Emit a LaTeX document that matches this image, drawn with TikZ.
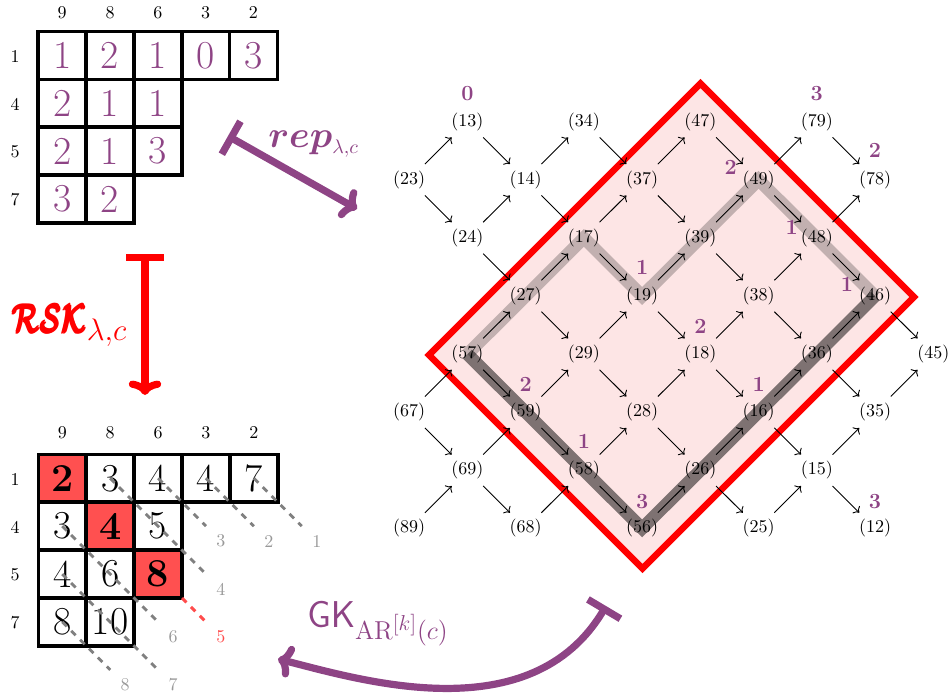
\documentclass[tikz,border=0pt]{standalone}
\usepackage{amsmath}
\usepackage{bm}
\usetikzlibrary{arrows.meta,calc,backgrounds}
\definecolor{plum}{RGB}{142,68,133}
\definecolor{cellred}{RGB}{255,80,80}
\definecolor{pinkfill}{RGB}{253,229,229}
\begin{document}
\begin{tikzpicture}[x=0.5556pt, y=-0.5556pt,
  vtx/.style={inner sep=1pt, font=\normalsize},
  edge/.style={->, line width=0.5pt},
  glab/.style={text=plum, font=\large\bfseries, inner sep=0pt},
  cell/.style={draw, line width=2pt, minimum size=26.6pt, inner sep=0pt, font=\fontsize{22}{26}\selectfont},
  hl/.style={fill=cellred, font=\fontsize{22}{26}\selectfont\bfseries},
  pl/.style={},
  tlab/.style={font=\normalsize, inner sep=0pt},
  dots/.style={gray, line width=1.6pt, dash pattern=on 3.5pt off 3.5pt},
  reddots/.style={red!70, line width=1.6pt, dash pattern=on 3.5pt off 3.5pt},
  dlab/.style={text=black!40, font=\normalsize, inner sep=0pt},
  bigarr/.style={line width=4pt, {Bar[width=21pt]}-{Computer Modern Rightarrow[width=18pt,length=8pt]}},
  biglab/.style={anchor=base west, inner sep=0pt, font=\huge},
]
\useasboundingbox (0,0) rectangle (951,698);

% ---------- top tableau ----------
\foreach \v [count=\i] in {9,8,6,3,2}
  \node[tlab] (tc\i) at ({38.3+47.8*(\i-0.5)},13) {\v};
\foreach \v [count=\i] in {1,4,5,7}
  \node[tlab] (tr\i) at (15,{32.7+47.8*(\i-0.5)}) {\v};
\foreach \r/\c/\v in {1/1/1,1/2/2,1/3/1,1/4/0,1/5/3,2/1/2,2/2/1,2/3/1,3/1/2,3/2/1,3/3/3,4/1/3,4/2/2}
  \node[cell, text=plum] (t\r\c) at ({38.3+47.8*(\c-0.5)},{31.7+47.8*(\r-0.5)}) {\v};

% ---------- bottom tableau ----------
\foreach \v [count=\i] in {9,8,6,3,2}
  \node[tlab] (bc\i) at ({38.3+47.9*(\i-0.5)},433) {\v};
\foreach \v [count=\i] in {1,4,5,7}
  \node[tlab] (br\i) at (15,{455.3+47.9*(\i-0.5)}) {\v};
\foreach \r/\c/\v/\s in {1/1/2/hl,1/2/3/pl,1/3/4/pl,1/4/4/pl,1/5/7/pl,2/1/3/pl,2/2/4/hl,2/3/5/pl,3/1/4/pl,3/2/6/pl,3/3/8/hl,4/1/8/pl,4/2/10/pl}
  \node[cell, \s] (b\r\c) at ({38.3+47.9*(\c-0.5)},{454.3+47.9*(\r-0.5)}) {\v};

% diagonal dotted lines
\foreach \st/\len/\lab in {b15/1/1, b14/1/2, b13/1/3, b12/2/4, b21/2/6, b31/2/7, b41/1/8}{
  \coordinate (d\lab) at ($(\st)+({47.9*\len},{47.9*\len})$);
  \draw[dots] (\st.center) -- (d\lab);
  \node[dlab] (dl\lab) at ($(d\lab)+(15,15)$) {\lab};
}
\coordinate (r5s) at ($(b33)+(23.95,23.95)$);
\coordinate (d5) at ($(r5s)+(23.95,23.95)$);
\draw[reddots] (r5s) -- (d5);
\node[dlab, text=red!70] (dl5) at ($(d5)+(15,15)$) {5};

% ---------- lattice ----------
\foreach \lab/\c/\r in {13/1/0, 34/3/0, 47/5/0, 79/7/0, 23/0/1, 14/2/1, 37/4/1, 49/6/1, 78/8/1, 24/1/2, 17/3/2, 39/5/2, 48/7/2, 27/2/3, 19/4/3, 38/6/3, 46/8/3, 57/1/4, 29/3/4, 18/5/4, 36/7/4, 45/9/4, 67/0/5, 59/2/5, 28/4/5, 16/6/5, 35/8/5, 69/1/6, 58/3/6, 26/5/6, 15/7/6, 89/0/7, 68/2/7, 56/4/7, 25/6/7, 12/8/7}
  \node[vtx] (n\lab) at ({409.2+58.23*\c},{121.7+58.1*\r}) {(\lab)};

\begin{scope}[on background layer]
  \draw[red, line width=3.6pt, fill=pinkfill, line join=miter]
    (700.5,83.5) -- (914,297) -- (642.5,568.5) -- (429,355) -- cycle;
  \draw[black, opacity=0.23, line width=7pt, line join=miter]
    (n57.center) -- (n27.center) -- (n17.center) -- (n19.center) -- (n39.center) -- (n49.center) -- (n48.center) -- (n46.center);
  \draw[black, opacity=0.5, line width=7pt, line join=miter]
    (n57.center) -- (n59.center) -- (n58.center) -- (n56.center) -- (n26.center) -- (n16.center) -- (n36.center) -- (n46.center);
\end{scope}

\foreach \a/\b in {23/13, 24/14, 14/34, 17/37, 27/17, 37/47, 19/39, 39/49, 49/79, 48/78, 38/48, 36/46, 35/45, 18/38, 29/19, 57/27, 67/57, 59/29, 28/18, 16/36, 15/35, 69/59, 89/69, 68/58, 58/28, 26/16, 56/26, 25/15,
  23/24, 13/14, 24/27, 14/17, 34/37, 17/19, 27/29, 37/39, 47/49, 19/18, 39/38, 49/48, 79/78, 48/46, 38/36, 46/45, 36/35, 18/16, 29/28, 57/59, 67/69, 59/58, 28/26, 16/15, 15/12, 69/68, 58/56, 26/25}
  \draw[edge] ($(n\a)!0.27!(n\b)$) -- ($(n\a)!0.73!(n\b)$);

% lattice labels
\node[glab] (g1) at ($(n13)+(0,-28)$) {0};
\node[glab] (g2) at ($(n79)+(0,-28)$) {3};
\node[glab] (g3) at ($(n78)+(0,-29)$) {2};
\node[glab] (g4) at ($(n49)+(-28,-12)$) {2};
\node[glab] (g5) at ($(n19)+(0,-29)$) {1};
\node[glab] (g6) at ($(n48)+(-25,-10)$) {1};
\node[glab] (g7) at ($(n46)+(-28,-12)$) {1};
\node[glab] (g8) at ($(n18)+(0,-28)$) {2};
\node[glab] (g9) at ($(n16)+(0,-28)$) {1};
\node[glab] (g10) at ($(n59)+(0,-28)$) {2};
\node[glab] (g11) at ($(n58)+(0,-29)$) {1};
\node[glab] (g12) at ($(n56)+(0,-27)$) {3};
\node[glab] (g13) at ($(n12)+(0,-27)$) {3};

% ---------- big arrows ----------
\coordinate (repS) at (228,136);
\coordinate (repE) at (357,209);
\draw[bigarr, plum] (repS) -- (repE);
\node[biglab, text=plum] (replab) at (268,148) {$\bm{rep}_{\mbox{\fontsize{11}{13}\selectfont$\lambda{,}c$}}$};

\coordinate (rskS) at (145,254);
\coordinate (rskE) at (145,395);
\draw[bigarr, red] (rskS) -- (rskE);
\node[biglab, text=red] (rsklab) at (12,333) {\scalebox{0.76}[1.08]{$\pmb{\bm{\mathcal{RSK}}}$}\raisebox{-4pt}{\fontsize{18}{21}\selectfont$\lambda{,}c$}};

\coordinate (gkS) at (606,606);
\coordinate (gkE) at (278,659);
\draw[bigarr, plum] (gkS) .. controls (531,732) and (361,680) .. (gkE);
\node[biglab, text=plum] (gklab) at (307,627) {$\mathsf{GK}_{\mathrm{AR}^{[k]}(c)}$};
\end{tikzpicture}
\end{document}
